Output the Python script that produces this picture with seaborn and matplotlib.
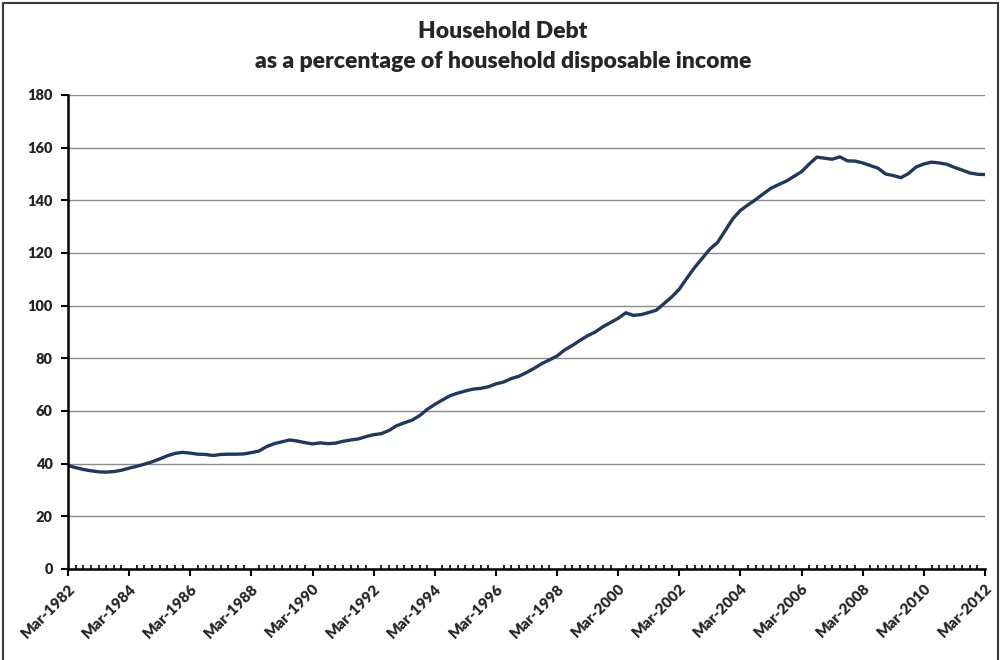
import matplotlib
matplotlib.use("Agg")
import matplotlib.pyplot as plt
import seaborn as sns
import pandas as pd
from matplotlib.patches import Rectangle
from matplotlib.ticker import MultipleLocator

# Quarterly household debt (% of disposable income), Mar-1982 .. Mar-2012
debt_pct = [
    39.3, 38.5, 37.8, 37.3, 36.9, 36.8, 37.0, 37.5, 38.3, 39.0,
    39.8, 40.7, 41.8, 43.0, 43.9, 44.3, 44.0, 43.6, 43.5, 43.1,
    43.5, 43.6, 43.6, 43.7, 44.2, 44.8, 46.5, 47.6, 48.3, 49.0,
    48.6, 48.0, 47.5, 47.9, 47.6, 47.8, 48.5, 49.0, 49.4, 50.3,
    51.0, 51.4, 52.6, 54.4, 55.5, 56.5, 58.2, 60.6, 62.5, 64.2,
    65.8, 66.8, 67.6, 68.3, 68.6, 69.2, 70.3, 71.0, 72.3, 73.2,
    74.6, 76.2, 78.0, 79.4, 80.9, 83.2, 84.9, 86.8, 88.6, 90.0,
    92.0, 93.6, 95.2, 97.3, 96.3, 96.6, 97.4, 98.3, 100.8, 103.3,
    106.3, 110.5, 114.5, 118.0, 121.5, 124.0, 128.5, 133.0, 136.2, 138.3,
    140.3, 142.5, 144.6, 146.0, 147.3, 149.1, 150.9, 153.8, 156.4, 156.0,
    155.6, 156.5, 155.0, 154.9, 154.2, 153.2, 152.2, 150.0, 149.4, 148.6,
    150.2, 152.7, 153.8, 154.5, 154.2, 153.7, 152.5, 151.5, 150.4, 149.9,
    149.8,
]
quarter_index = list(range(len(debt_pct)))
tick_labels = ["Mar-1982", "Mar-1984", "Mar-1986", "Mar-1988", "Mar-1990",
               "Mar-1992", "Mar-1994", "Mar-1996", "Mar-1998", "Mar-2000",
               "Mar-2002", "Mar-2004", "Mar-2006", "Mar-2008", "Mar-2010",
               "Mar-2012"]
y_ticks = [0, 20, 40, 60, 80, 100, 120, 140, 160, 180]
title_lines = ["Household Debt", "as a percentage of household disposable income"]

df = pd.DataFrame({"q": quarter_index, "debt": debt_pct})

sns.set_theme(style="white")
plt.rcParams["font.family"] = ["Lato", "DejaVu Sans"]

fig = plt.figure(figsize=(10.02, 6.60), dpi=100)
ax = fig.add_axes([68 / 1002, 1 - 569 / 660, (985 - 68) / 1002, (569 - 95) / 660])

sns.lineplot(data=df, x="q", y="debt", ax=ax, color="#1f3860", linewidth=2.4)

ax.set_xlim(0, len(debt_pct) - 1)
ax.set_ylim(0, 180)
ax.set_yticks(y_ticks)
ax.set_yticklabels([str(v) for v in y_ticks], fontsize=10.5, fontweight="heavy")
ax.set_xticks(list(range(0, len(debt_pct), 8)))
ax.set_xticklabels(tick_labels, rotation=45, ha="right", rotation_mode="anchor",
                   fontsize=11, fontweight="heavy")
ax.xaxis.set_minor_locator(MultipleLocator(1))
ax.set_xlabel("")
ax.set_ylabel("")

ax.grid(axis="y", color="#8c8c8c", linewidth=1.0)
ax.set_axisbelow(True)
for s in ["top", "right"]:
    ax.spines[s].set_visible(False)
for s in ["left", "bottom"]:
    ax.spines[s].set_color("black")
    ax.spines[s].set_linewidth(1.8)

ax.tick_params(axis="y", which="major", direction="out", length=5, width=1.5,
               color="black", pad=6, left=True)
ax.tick_params(axis="x", which="major", direction="out", length=5, width=1.5,
               color="black", pad=4, bottom=True)
ax.tick_params(axis="x", which="minor", direction="in", length=3, width=1.2,
               color="black", bottom=True)

fig.text(0.502, 1 - 32 / 660, title_lines[0], ha="center", va="center",
         fontsize=16.5, fontweight="heavy")
fig.text(0.502, 1 - 62 / 660, title_lines[1], ha="center", va="center",
         fontsize=16.5, fontweight="heavy")

fig.patches.append(Rectangle((3 / 1002, -0.02), 995 / 1002, 1.02 - 3 / 660,
                             transform=fig.transFigure, fill=False,
                             edgecolor="#3a3a3a", linewidth=1.5))

fig.savefig("out.png", dpi=100)
